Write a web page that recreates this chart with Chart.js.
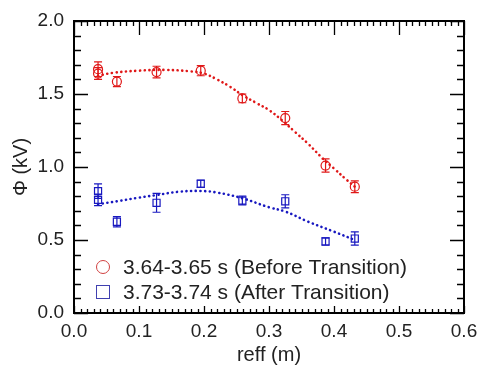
<!DOCTYPE html>
<html>
<head>
<meta charset="utf-8">
<script src="https://cdn.jsdelivr.net/npm/chart.js@4.4.0/dist/chart.umd.min.js"></script>
<style>
  html, body { margin: 0; padding: 0; background: #fff; }
  #wrap { width: 481px; height: 367px; }
</style>
</head>
<body>
<div id="wrap"><canvas id="myChart" width="481" height="367"></canvas></div>
<script>
// measured points (reff in m, potential in kV)
const redX = [0.037, 0.037, 0.066, 0.127, 0.195, 0.259, 0.325, 0.387, 0.432];
const redY = [1.67, 1.64, 1.585, 1.65, 1.66, 1.47, 1.335, 1.01, 0.865];
const redErr = [0.05, 0.04, 0.035, 0.04, 0.035, 0.03, 0.045, 0.045, 0.04];

const blueX = [0.037, 0.037, 0.066, 0.127, 0.195, 0.259, 0.325, 0.387, 0.432];
const blueY = [0.835, 0.775, 0.625, 0.755, 0.885, 0.77, 0.765, 0.49, 0.51];
const blueErr = [0.05, 0.04, 0.035, 0.065, 0.025, 0.03, 0.045, 0.025, 0.045];

// fit curves
const redFitX = [0.037, 0.06, 0.1, 0.14, 0.18, 0.2, 0.22, 0.24, 0.26, 0.28, 0.3, 0.32, 0.34, 0.36, 0.38, 0.4, 0.42, 0.432];
const redFitY = [1.625, 1.645, 1.66, 1.665, 1.655, 1.64, 1.6, 1.55, 1.49, 1.44, 1.39, 1.32, 1.24, 1.16, 1.07, 0.99, 0.91, 0.865];
const blueFitX = [0.037, 0.066, 0.1, 0.127, 0.16, 0.195, 0.22, 0.259, 0.3, 0.325, 0.36, 0.4, 0.432];
const blueFitY = [0.745, 0.765, 0.79, 0.808, 0.83, 0.836, 0.825, 0.786, 0.724, 0.695, 0.626, 0.557, 0.5];

const xTicks = [0.0, 0.1, 0.2, 0.3, 0.4, 0.5, 0.6];
const yTicks = [0.0, 0.5, 1.0, 1.5, 2.0];

const labels = ["3.64-3.65 s (Before Transition)", "3.73-3.74 s (After Transition)"];
const red = "#e01818";
const blue = "#1818c0";
const FONT = "Arial, 'Liberation Sans', sans-serif";

function pts(xs, ys) {
  return xs.map((x, i) => ({ x: x, y: ys[i] }));
}

// error bars
const errorBars = {
  id: "errorBars",
  afterDatasetsDraw(chart) {
    const ctx = chart.ctx;
    const xs = chart.scales.x, ys = chart.scales.y;
    const sets = [[redX, redY, redErr, red], [blueX, blueY, blueErr, blue]];
    ctx.save();
    ctx.lineWidth = 1.2;
    sets.forEach(([X, Y, E, c]) => {
      ctx.strokeStyle = c;
      X.forEach((x, i) => {
        const px = xs.getPixelForValue(x);
        const y1 = ys.getPixelForValue(Y[i] + E[i]);
        const y2 = ys.getPixelForValue(Y[i] - E[i]);
        ctx.beginPath();
        ctx.moveTo(px, y1); ctx.lineTo(px, y2);
        ctx.moveTo(px - 4, y1); ctx.lineTo(px + 4, y1);
        ctx.moveTo(px - 4, y2); ctx.lineTo(px + 4, y2);
        ctx.stroke();
      });
    });
    ctx.restore();
  }
};

// frame with inward ticks, and the legend inside the plot
const frame = {
  id: "frame",
  afterDraw(chart) {
    const ctx = chart.ctx;
    const a = chart.chartArea;
    const xs = chart.scales.x, ys = chart.scales.y;
    ctx.save();
    ctx.strokeStyle = "#000";
    ctx.lineWidth = 2;
    ctx.strokeRect(a.left, a.top, a.right - a.left, a.bottom - a.top);
    ctx.lineWidth = 1.3;
    ctx.beginPath();
    for (let i = 0; i <= 60; i++) {
      const px = Math.round(xs.getPixelForValue(i / 100)) + 0.5;
      const major = i % 10 === 0;
      ctx.moveTo(px, a.bottom); ctx.lineTo(px, a.bottom - (major ? 7 : 4));
      ctx.moveTo(px, a.top); ctx.lineTo(px, a.top + (major ? 14 : 5));
    }
    for (let i = 0; i <= 20; i++) {
      const py = Math.round(ys.getPixelForValue(i / 10)) + 0.5;
      const major = i % 5 === 0;
      ctx.moveTo(a.left, py); ctx.lineTo(a.left + (major ? 14 : 7), py);
      ctx.moveTo(a.right, py); ctx.lineTo(a.right - (major ? 14 : 7), py);
    }
    ctx.stroke();

    // legend
    ctx.font = "21px " + FONT;
    ctx.textBaseline = "middle";
    ctx.fillStyle = "#222";
    ctx.lineWidth = 1;
    ctx.strokeStyle = "#d04040";
    ctx.beginPath();
    ctx.arc(103, 267, 6.5, 0, Math.PI * 2);
    ctx.stroke();
    ctx.fillText(labels[0], 123, 268);
    ctx.strokeStyle = "#4040b0";
    ctx.strokeRect(96.5, 285.5, 13, 13);
    ctx.fillText(labels[1], 123, 293);
    ctx.restore();
  }
};

function noPad(s) {
  s.paddingLeft = 0; s.paddingRight = 0; s.paddingTop = 0; s.paddingBottom = 0;
}

const ctx = document.getElementById("myChart").getContext("2d");
const chart = new Chart(ctx, {
  type: "scatter",
  data: {
    datasets: [
      {
        label: "fitRed", type: "line", data: pts(redFitX, redFitY),
        borderColor: red, borderWidth: 2.6, borderDash: [0.1, 4.6], borderCapStyle: "round",
        pointRadius: 0, tension: 0.4, fill: false
      },
      {
        label: "fitBlue", type: "line", data: pts(blueFitX, blueFitY),
        borderColor: blue, borderWidth: 2.6, borderDash: [0.1, 4.6], borderCapStyle: "round",
        pointRadius: 0, tension: 0.4, fill: false
      },
      {
        label: labels[0], data: pts(redX, redY),
        pointStyle: "circle", pointRadius: 4.5, borderColor: red, borderWidth: 1.2,
        backgroundColor: "rgba(0,0,0,0)", showLine: false
      },
      {
        label: labels[1], data: pts(blueX, blueY),
        pointStyle: "rect", pointRadius: 5, borderColor: blue, borderWidth: 1.2,
        backgroundColor: "rgba(0,0,0,0)", showLine: false
      }
    ]
  },
  options: {
    responsive: false,
    animation: false,
    layout: { padding: { top: 21, right: 17, left: 0, bottom: 0 } },
    plugins: { legend: { display: false }, tooltip: { enabled: false } },
    scales: {
      x: {
        type: "linear", min: 0, max: 0.6,
        afterFit(s) { s.height = 54; noPad(s); },
        afterBuildTicks(s) { s.ticks = xTicks.map(v => ({ value: v })); },
        grid: { display: false, drawTicks: false },
        border: { display: false },
        ticks: {
          color: "#222", padding: 7,
          font: { family: FONT, size: 19 },
          callback: v => v.toFixed(1)
        },
        title: {
          display: true, text: "reff (m)", color: "#222", padding: { top: 0, bottom: 0 },
          font: { family: FONT, size: 20 }
        }
      },
      y: {
        type: "linear", min: 0, max: 2.0,
        afterFit(s) { s.width = 74; noPad(s); },
        afterBuildTicks(s) { s.ticks = yTicks.map(v => ({ value: v })); },
        grid: { display: false, drawTicks: false },
        border: { display: false },
        ticks: {
          color: "#222", padding: 10,
          font: { family: FONT, size: 19 },
          callback: v => v.toFixed(1)
        },
        title: {
          display: true, text: "Φ (kV)", color: "#222", padding: { top: 9, bottom: 0 },
          font: { family: FONT, size: 20 }
        }
      }
    }
  },
  plugins: [errorBars, frame]
});
</script>
</body>
</html>
